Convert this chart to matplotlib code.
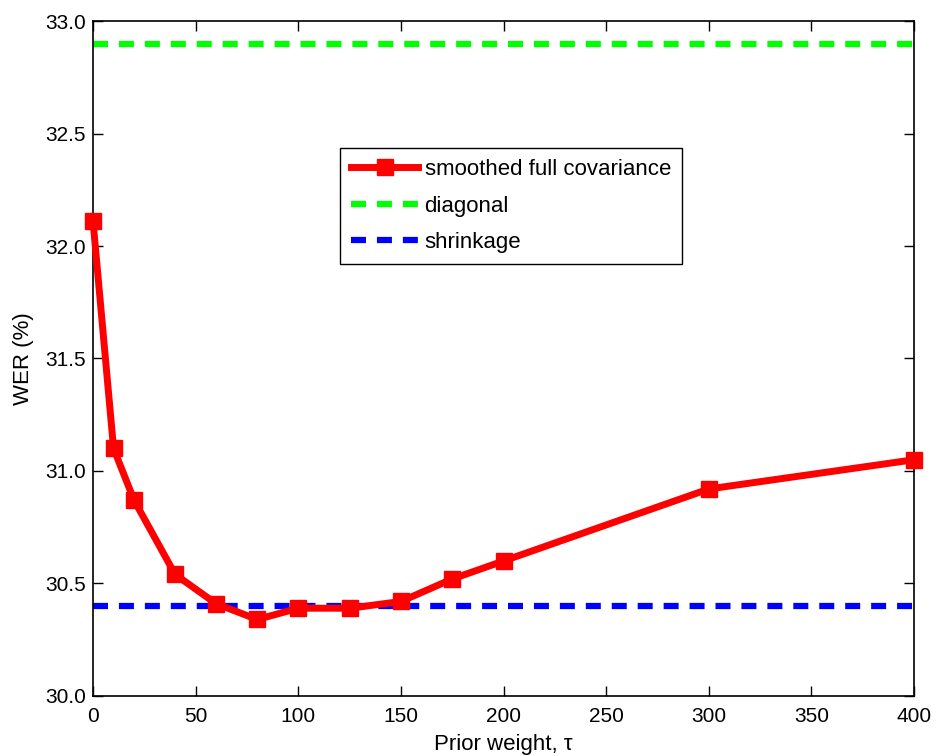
import numpy as np
import matplotlib.pyplot as plt

plt.rcParams['font.family'] = ['Liberation Sans', 'DejaVu Sans']
plt.rcParams['font.size'] = 16

# prior weight vs word error rate
tau = [0, 10, 20, 40, 60, 80, 100, 125, 150, 175, 200, 300, 400]
wer_smoothed = [32.11, 31.10, 30.87, 30.54, 30.41, 30.34, 30.39, 30.39, 30.42, 30.52, 30.60, 30.92, 31.05]
wer_diagonal = 32.9
wer_shrinkage = 30.4

fig = plt.figure(figsize=(9.36, 7.56), dpi=100)
ax = fig.add_axes([0.0994, 0.0794, 0.8771, 0.8928])

ax.plot(tau, wer_smoothed, color='red', lw=5, marker='s', ms=11,
        label='smoothed full covariance', clip_on=False, zorder=5)
ax.axhline(wer_diagonal, color='#00ff00', lw=4.5, dashes=(2.4, 1.75),
           label='diagonal')
ax.axhline(wer_shrinkage, color='blue', lw=4.5, dashes=(2.4, 1.75),
           label='shrinkage')

ax.set_xlim(0, 400)
ax.set_ylim(30, 33)
ax.set_xticks(np.arange(0, 401, 50))
ax.set_yticks(np.arange(30, 33.01, 0.5))
ax.yaxis.set_major_formatter(plt.FormatStrFormatter('%.1f'))
ax.tick_params(direction='in', top=True, right=True, length=7, width=1,
               labelsize=15, pad=5)
ax.tick_params(axis='x', pad=8)
for s in ax.spines.values():
    s.set_linewidth(1.2)

ax.set_xlabel('Prior weight, \u03c4', labelpad=6)
ax.set_ylabel('WER (%)', labelpad=8)

leg = ax.legend(loc='upper left', bbox_to_anchor=(0.301, 0.812),
                borderaxespad=0, fancybox=False, edgecolor='black',
                framealpha=1, handlelength=3.0, handletextpad=0.3,
                borderpad=0.5, labelspacing=0.7)
leg.get_frame().set_linewidth(1.0)

fig.savefig('out.png', dpi=100)
